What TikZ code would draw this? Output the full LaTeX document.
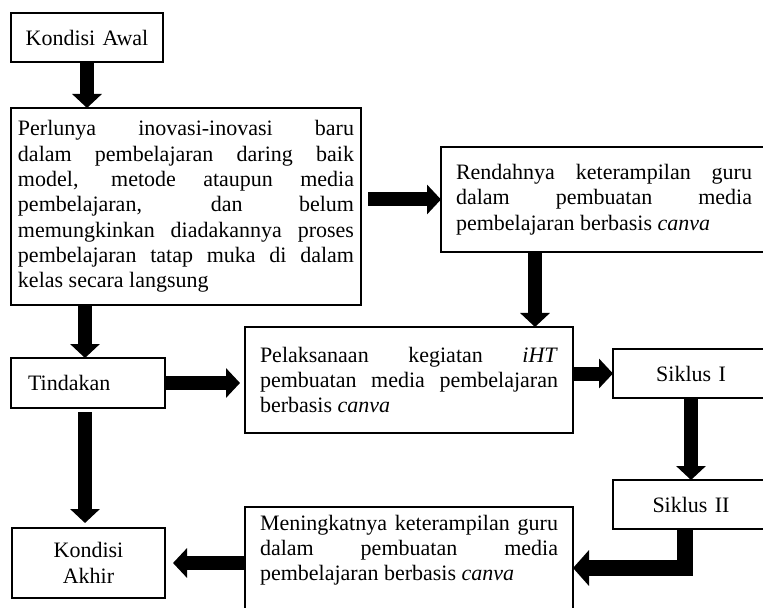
\documentclass[tikz,border=0pt]{standalone}
\usepackage{fontspec}
\setmainfont{Liberation Serif}
\usetikzlibrary{arrows.meta}
\tolerance=10000
\hbadness=10000

\begin{document}
\begin{tikzpicture}[x=0.5pt, y=-0.5pt,
    every node/.style={font=\fontsize{11}{12.65}\selectfont, outer sep=0pt},
    box/.style={draw, line width=0.9pt, anchor=north west},
    fat/.style={line width=7pt, -{Triangle[width=14.5pt,length=7pt]}},
    fatter/.style={line width=8pt, line join=miter, -{Triangle[width=17.5pt,length=8pt]}},
  ]
  \useasboundingbox (0,0) rectangle (763,608);
  \clip (0,0) rectangle (763,608);

  \node[box, text width=66pt, inner xsep=5pt, minimum height=24.5pt, align=center] (awal) at (11,13) {Kondisi Awal};
  \node[box, text width=168pt, inner xsep=3.5pt, minimum height=98.5pt, align=justify] (perlu) at (11,108)
    {Perlunya inovasi-inovasi baru\linebreak dalam pembelajaran daring baik\linebreak model, metode ataupun media\linebreak pembelajaran, dan belum\linebreak memungkinkan diadakannya proses\linebreak pembelajaran tatap muka di dalam\linebreak kelas secara langsung};
  \node[box, text width=148pt, inner xsep=7.5pt, minimum height=52.5pt, align=justify] (rend) at (441,147)
    {Rendahnya keterampilan guru\linebreak dalam pembuatan media\linebreak pembelajaran berbasis \textit{canva}};
  \node[box, text width=60pt, inner xsep=8.5pt, minimum height=25pt, align=left] (tind) at (11,358) {Tindakan};
  \node[box, text width=149pt, inner xsep=7.5pt, minimum height=53pt, align=justify] (pelak) at (245,327)
    {Pelaksanaan kegiatan \textit{iHT}\linebreak pembuatan media pembelajaran\linebreak berbasis \textit{canva}};
  \node[box, text width=62pt, inner xsep=8pt, minimum height=24.5pt, align=center] (siklus1) at (613,349) {Siklus I};
  \node[box, text width=62pt, inner xsep=8pt, minimum height=24.5pt, align=center] (siklus2) at (613,480) {Siklus II};
  \node[box, text width=60pt, inner xsep=8.25pt, minimum height=35pt, align=center] (akhir) at (12,528) {Kondisi\\Akhir};
  \node[box, draw=none, text width=149pt, inner xsep=7.5pt, inner ysep=4pt, align=justify] (mening) at (245,507)
    {Meningkatnya keterampilan guru\linebreak dalam pembuatan media\linebreak pembelajaran berbasis \textit{canva}};
  \draw[line width=0.9pt] (mening.north west) rectangle ([yshift=-20pt]mening.south east);

  % block arrows
  \draw[fat] (awal.south) -- (awal.south |- perlu.north);
  \draw[fat] ([xshift=3.5pt]perlu.east |- rend.west) -- (rend.west);
  \draw[fat] ([xshift=-1.5pt]tind.north |- perlu.south) -- ([xshift=-1.5pt]tind.north);
  \draw[fat] ([xshift=47pt]rend.south west) -- ([xshift=47pt]rend.south west |- pelak.north);
  \draw[fat] (tind.east) -- ([xshift=-2.5pt]pelak.west |- tind.east);
  \draw[fat] ([xshift=-1.5pt,yshift=-2pt]tind.south) -- ([xshift=-1.5pt,yshift=2.5pt]tind.south |- akhir.north);
  \draw[fat] (pelak.east |- siklus1.west) -- (siklus1.west);
  \draw[fat] (siklus1.south) -- (siklus2.north);
  \draw[fatter] ([xshift=-3pt]siklus2.south) |- ([yshift=-2.5pt]mening.east |- akhir.east);
  \draw[fat] (mening.west |- akhir.east) -- ([xshift=4pt]akhir.east);
\end{tikzpicture}
\end{document}
